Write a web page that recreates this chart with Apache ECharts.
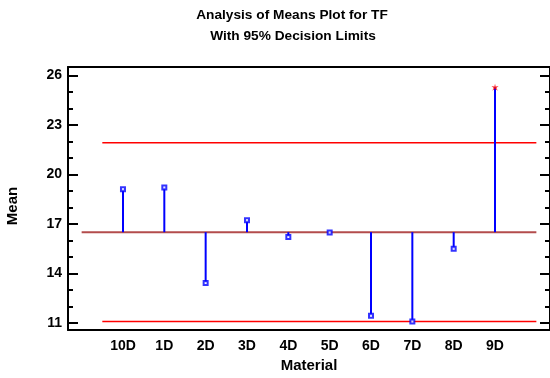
<!DOCTYPE html>
<html>
<head>
<meta charset="utf-8">
<script src="https://cdn.jsdelivr.net/npm/echarts@6/dist/echarts.min.js"></script>
<style>html,body{margin:0;padding:0;background:#fff;}#c{width:550px;height:378px;}</style>
</head>
<body>
<div id="c"></div>
<script>
const categories = ['10D', '1D', '2D', '3D', '4D', '5D', '6D', '7D', '8D', '9D'];
const means = [19.11, 19.21, 13.41, 17.23, 16.2, 16.48, 11.43, 11.08, 15.49, 25.29];
const centerLine = 16.5;
const upperLimit = 21.92;
const lowerLimit = 11.08;
const yMajorTicks = [11, 14, 17, 20, 23, 26];
const yMinorTicks = [11, 12, 13, 14, 15, 16, 17, 18, 19, 20, 21, 22, 23, 24, 25, 26];
const titleLines = ['Analysis of Means Plot for TF', 'With 95% Decision Limits'];

const FONT = '"Liberation Sans", Arial, sans-serif';
const n = categories.length;
const positions = categories.map((c, i) => i + 1);
const pointData = means.map((v, i) => {
  const out = v > upperLimit || v < lowerLimit;
  return {
    value: [i + 1, v],
    symbol: out ? 'path://M5,0 L6,4 L10,3 L7,6 L9,10 L5,7 L1,10 L3,6 L0,3 L4,4 Z' : 'emptyRect',
    symbolSize: out ? 7 : 4,
    itemStyle: out ? { color: '#ff0000', borderWidth: 0 } : { color: '#0000ff', borderWidth: 1.3 }
  };
});
const stemData = means.map((v, i) => [i + 1, v]);

const chart = echarts.init(document.getElementById('c'), null, { renderer: 'canvas' });
const yMin = 10.56, yMax = 26.52;
const yBase = {
  type: 'value', min: yMin, max: yMax,
  splitLine: { show: false }
};
chart.setOption({
  animation: false,
  backgroundColor: '#ffffff',
  textStyle: { fontFamily: FONT },
  grid: { left: 68, right: -2, top: 67, bottom: 42.4, containLabel: false },
  graphic: [
    { type: 'text', x: 292, y: 15, style: { text: titleLines[0], font: 'bold 13.7px ' + FONT, fill: '#000', textAlign: 'center', textVerticalAlign: 'middle' } },
    { type: 'text', x: 293, y: 36.5, style: { text: titleLines[1], font: 'bold 13.7px ' + FONT, fill: '#000', textAlign: 'center', textVerticalAlign: 'middle' } },
    { type: 'text', x: 13, y: 206, rotation: Math.PI / 2, style: { text: 'Mean', font: 'bold 15px ' + FONT, fill: '#000', textAlign: 'center', textVerticalAlign: 'middle' } }
  ],
  xAxis: [
    {
      type: 'value', min: -0.33, max: n + 1.33, position: 'bottom',
      axisLine: { show: true, onZero: false, lineStyle: { color: '#000', width: 2 } },
      axisTick: { show: false },
      splitLine: { show: false },
      axisLabel: {
        customValues: positions,
        formatter: v => categories[Math.round(v) - 1] || '',
        color: '#000', fontWeight: 'bold', fontSize: 14, fontFamily: FONT, margin: 9
      },
      name: 'Material', nameLocation: 'middle', nameGap: 23,
      nameTextStyle: { color: '#000', fontWeight: 'bold', fontSize: 15, fontFamily: FONT }
    },
    {
      type: 'value', min: -0.33, max: n + 1.33, position: 'top',
      axisLine: { show: true, onZero: false, lineStyle: { color: '#000', width: 2 } },
      axisTick: { show: false }, axisLabel: { show: false }, splitLine: { show: false }
    }
  ],
  yAxis: [
    Object.assign({}, yBase, {
      position: 'left',
      axisLine: { show: true, onZero: false, lineStyle: { color: '#000', width: 2 } },
      axisTick: { show: true, inside: true, length: 10, customValues: yMajorTicks, lineStyle: { color: '#000', width: 2 } },
      axisLabel: { customValues: yMajorTicks, color: '#000', fontWeight: 'bold', fontSize: 14, fontFamily: FONT, margin: 6 }
    }),
    Object.assign({}, yBase, {
      position: 'left',
      axisLine: { show: false, onZero: false },
      axisTick: { show: true, inside: true, length: 5, customValues: yMinorTicks, lineStyle: { color: '#000', width: 2 } },
      axisLabel: { show: false }
    }),
    Object.assign({}, yBase, {
      position: 'right',
      axisLine: { show: true, onZero: false, lineStyle: { color: '#000', width: 2 } },
      axisTick: { show: true, inside: true, length: 10, customValues: yMajorTicks, lineStyle: { color: '#000', width: 2 } },
      axisLabel: { show: false }
    }),
    Object.assign({}, yBase, {
      position: 'right',
      axisLine: { show: false, onZero: false },
      axisTick: { show: true, inside: true, length: 5, customValues: yMinorTicks, lineStyle: { color: '#000', width: 2 } },
      axisLabel: { show: false }
    })
  ],
  series: [
    {
      type: 'line', name: 'UDL', data: [[0.5, upperLimit], [n + 1, upperLimit]],
      symbol: 'none', lineStyle: { color: '#ff0000', width: 1.5 }, z: 2
    },
    {
      type: 'line', name: 'LDL', data: [[0.5, lowerLimit], [n + 1, lowerLimit]],
      symbol: 'none', lineStyle: { color: '#ff0000', width: 1.5 }, z: 2
    },
    {
      type: 'line', name: 'CL', data: [[0, centerLine], [n + 1, centerLine]],
      symbol: 'none', lineStyle: { color: '#b34c4c', width: 2 }, z: 3
    },
    {
      type: 'custom', name: 'stems', data: stemData, z: 4,
      renderItem: function (params, api) {
        const x = api.value(0), v = api.value(1);
        const p0 = api.coord([x, centerLine]);
        const p1 = api.coord([x, v]);
        return { type: 'line', shape: { x1: p0[0], y1: p0[1], x2: p1[0], y2: p1[1] }, style: { stroke: '#0000ff', lineWidth: 2 } };
      }
    },
    {
      type: 'scatter', name: 'means', data: pointData, z: 5
    }
  ]
});
</script>
</body>
</html>
